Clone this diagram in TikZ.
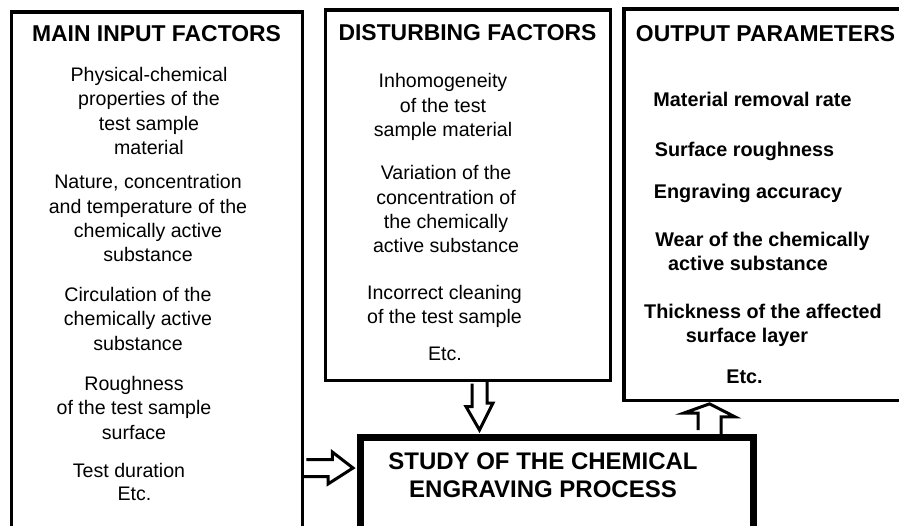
\documentclass[tikz,border=0pt]{standalone}
\usepackage{fontspec}
\setmainfont{Liberation Sans}
\usepackage{tikz}
\usetikzlibrary{calc}
\tikzset{
  factor box/.style={draw,line width=3.6pt,inner sep=0pt,anchor=north west},
  title/.style={anchor=base,inner sep=0pt,font=\fontsize{22.9}{26}\selectfont\bfseries},
  % multi-line entries are placed by the baseline of their last line
  entry/.style={anchor=base,inner sep=0pt,align=center,font=\fontsize{19.6}{24.4}\selectfont},
  result/.style={entry,font=\fontsize{19.8}{24.4}\selectfont\bfseries},
  block arrow/.style={draw,line width=3pt,miter limit=20},
}

\begin{document}
\begin{tikzpicture}[x=1pt,y=-1pt]
\useasboundingbox (0,0) rectangle (899,526);
\clip (0,0) rectangle (899,526);

% the four frames
\node[factor box,minimum width=291,minimum height=530,line width=3.8pt] (inputs) at (9.5,10.5) {};
\node[factor box,minimum width=285,minimum height=370.5] (disturb) at (323.5,8) {};
\node[factor box,minimum width=328,minimum height=391] (outputs) at (622,7.5) {};
\node[factor box,minimum width=393.5,minimum height=111.5,line width=7pt] (study) at (356.5,433.5) {};

% main input factors
\node[title] (inhead) at (156.5,41.5) {MAIN INPUT FACTORS};
\node[entry] (in1) at (149,154.5) {Physical-chemical\\properties of the\\test sample\\material};
\node[entry] (in2) at (148,262) {Nature, concentration\\and temperature of the\\chemically active\\substance};
\node[entry] (in3) at (138,350) {Circulation of the\\chemically active\\substance};
\node[entry] (in4) at (134,439) {Roughness\\of the test sample\\surface};
\node[entry] (in5) at (129,477) {Test duration};
\node[entry] (in6) at (134.5,500) {Etc.};

% disturbing factors
\node[title] (dhead) at (467.5,40.7) {DISTURBING FACTORS};
\node[entry] (d1) at (443,136.7) {Inhomogeneity\\of the test\\sample material};
\node[entry] (d2) at (446,253) {Variation of the\\concentration of\\the chemically\\active substance};
\node[entry] (d3) at (444.5,324) {Incorrect cleaning\\of the test sample};
\node[entry] (d4) at (445,360) {Etc.};

% output parameters
\node[title] (outhead) at (765.5,41.7) {OUTPUT PARAMETERS};
\node[result] (o1) at (752.5,106.7) {Material removal rate};
\node[result] (o2) at (744.5,156.7) {Surface roughness};
\node[result] (o3) at (748,199) {Engraving accuracy};
\node[result] (o4) at (762.5,270.7) {Wear of the chemically\\active substance\hspace*{29pt}};
\node[result] (o5) at (763,343) {Thickness of the affected\\surface layer\hspace*{32pt}};
\node[result] (o6) at (744.5,383) {Etc.};

% process
\node[entry,font=\fontsize{24}{28}\selectfont\bfseries] (proc) at (543,497.3)
  {STUDY OF THE CHEMICAL\\ENGRAVING PROCESS};

% hollow arrows
\coordinate (tipA) at ($(study.north west)+(-3.5,34.5)$);
\coordinate (tipB) at ($(study.north west)+(123,-3.5)$);
\coordinate (tipC) at ($(outputs.south west)+(87.5,1.75)$);
\draw[block arrow] (inputs.east |- tipA) ++(2,-8.5) -- ++(26,0) -- ++(0,-7.5) -- (tipA)
  -- ++(-25,16) -- ++(0,-7.5) -- ++(-26,0);
\draw[block arrow] (tipB |- disturb.south) ++(-7.5,1.5) -- ++(0,23) -- ++(-6,0) -- (tipB)
  -- ++(13.5,-27) -- ++(-6,0) -- ++(0,-23);
\draw[block arrow] (tipC |- study.north) ++(-11.5,-3.5) -- ++(0,-17) -- ++(-14,0) -- (tipC)
  -- ++(25.5,13) -- ++(-14,0) -- ++(0,17);
\end{tikzpicture}
\end{document}
